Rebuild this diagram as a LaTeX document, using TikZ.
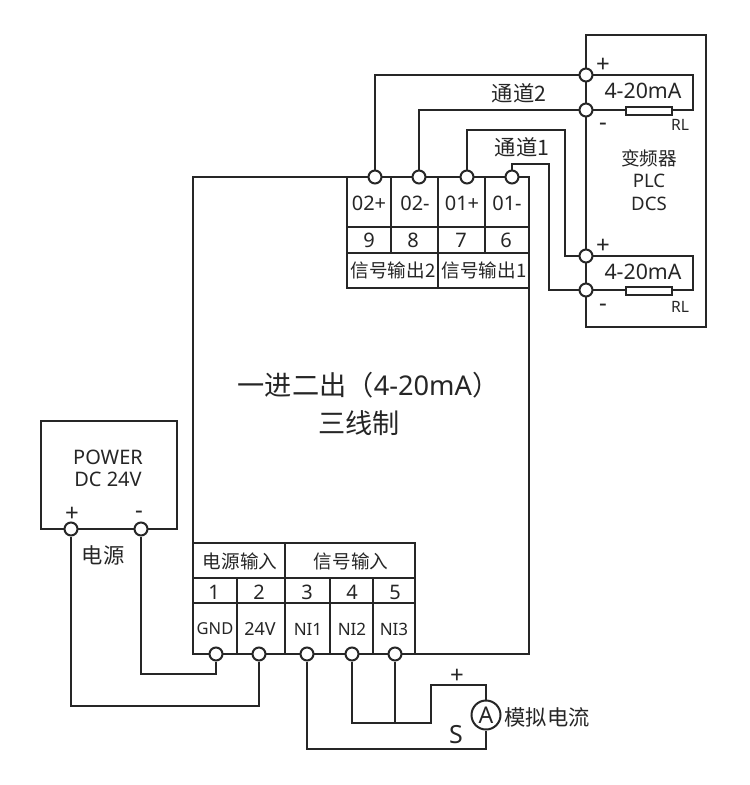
\documentclass[tikz,border=0pt]{standalone}
\usepackage{fontspec}
\setmainfont{Noto Sans}
\newfontfamily\cjk{Noto Sans CJK SC}
\tikzset{
  wire/.style={draw=black!85,line width=2pt},
  term/.style={circle,draw=black!85,line width=2pt,fill=white,minimum size=13pt,inner sep=0pt},
  lab/.style={inner sep=0pt,text=black!85,font=\fontsize{20}{22}\selectfont},
  big/.style={inner sep=0pt,text=black!85,font=\fontsize{27.2}{30}\selectfont},
  mid/.style={inner sep=0pt,text=black!85,font=\fontsize{18.6}{20}\selectfont},
  wide/.style={inner sep=0pt,text=black!85,font=\fontsize{21.3}{24}\selectfont},
  sml/.style={inner sep=0pt,text=black!85,font=\fontsize{15.6}{18}\selectfont},
  cellt/.style={inner sep=0pt,text=black!85,font=\fontsize{17}{18}\selectfont},
  sign/.style={inner sep=0pt,text=black!85,font=\bfseries\fontsize{24}{26}\selectfont},
  res/.style={rectangle,draw=black!85,line width=2pt,fill=white,minimum width=46pt,minimum height=8pt,inner sep=0pt},
}
\begin{document}
\begin{tikzpicture}[x=1pt,y=-1pt]
\useasboundingbox (0,0) rectangle (750,785);
\fill[white] (0,0) rectangle (750,785);
% outlines
\draw[wire] (193,177) rectangle (529,654);
\draw[wire] (586,35) rectangle (706,327);
\draw[wire] (41,421) rectangle (177,529);
\draw[wire] (586,75) rectangle (693,110);
\draw[wire] (586,256) rectangle (693,290);
% output table
\draw[wire] (347,177) -- (347,288) -- (529,288);
\draw[wire] (347,227) -- (529,227);
\draw[wire] (347,253) -- (529,253);
\draw[wire] (391,177) -- (391,253);
\draw[wire] (438,177) -- (438,288);
\draw[wire] (485,177) -- (485,253);
% input table
\draw[wire] (193,543) -- (415,543) -- (415,654);
\draw[wire] (193,578) -- (415,578);
\draw[wire] (193,603) -- (415,603);
\draw[wire] (237,578) -- (237,654);
\draw[wire] (285,543) -- (285,654);
\draw[wire] (330,578) -- (330,654);
\draw[wire] (373,578) -- (373,654);
% terminals
\node[term] (o9) at (375,177) {};
\node[term] (o8) at (419,177) {};
\node[term] (o7) at (467,177) {};
\node[term] (o6) at (512,177) {};
\node[term] (ch2p) at (586,75) {};
\node[term] (ch2m) at (586,110) {};
\node[term] (ch1p) at (586,256) {};
\node[term] (ch1m) at (586,290) {};
\node[term] (i1) at (216,654) {};
\node[term] (i2) at (259,654) {};
\node[term] (i3) at (307,654) {};
\node[term] (i4) at (352,654) {};
\node[term] (i5) at (395,654) {};
\node[term] (pp) at (71,529) {};
\node[term] (pm) at (141,529) {};
\node[res] (r2) at (649,110.5) {};
\node[res] (r1) at (649,291) {};
\node[circle,draw=black!85,line width=2pt,fill=white,minimum size=29pt,inner sep=0pt,font=\fontsize{23}{24}\selectfont,text=black!85] (amp) at (486,715) {A};
% helpers
\coordinate (a) at (565,130);
\coordinate (b) at (549,164);
\coordinate (c) at (431,723);
\coordinate (d) at (395,723);
\coordinate (e) at (216,674);
\coordinate (f) at (259,706);
\coordinate (g) at (486,749);
\coordinate (h) at (486,685);
% wires
\draw[wire] (o9.north) |- (ch2p.west);
\draw[wire] (o8.north) |- (ch2m.west);
\draw[wire] (o7.north) |- (a) |- (ch1p.west);
\draw[wire] (o6.north) |- (b) |- (ch1m.west);
\draw[wire] (i1.south) -- (e) -| (pm.south);
\draw[wire] (i2.south) -- (f) -| (pp.south);
\draw[wire] (i3.south) |- (g) -- (amp.south);
\draw[wire] (i4.south) |- (c) |- (h) -- (amp.north);
\draw[wire] (i5.south) -- (d);
% text
\node[big] (t1) at (368.5,385) {\cjk 一进二出（{\fontspec{Noto Sans}4-20mA}）};
\node[big] (t2) at (359,423) {\cjk 三线制};
\node[wide] (tc2) at (519,93) {\cjk 通道2};
\node[wide] (tc1) at (522,147) {\cjk 通道1};
\node[wide] (t4a) at (643,91) {4-20mA};
\node[wide] (t4b) at (643,272) {4-20mA};
\node[sml] at (680,125) {RL};
\node[sml] at (680,307) {RL};
\node[sign] at (603,65) {+};
\node[sign] at (603,246) {+};
\node[sign] at (603,127) {-};
\node[sign] at (603,308) {-};
\node[mid] at (649,158) {\cjk 变频器};
\node[mid] at (649,181) {PLC};
\node[mid] at (649,204) {DCS};
\node[lab] at (369,203) {02+};
\node[lab] at (415,203) {02-};
\node[lab] at (462,203) {01+};
\node[lab] at (507,203) {01-};
\node[lab] at (369,240) {9};
\node[lab] at (413,240) {8};
\node[lab] at (461,240) {7};
\node[lab] at (506,240) {6};
\node[mid] at (393,270) {\cjk 信号输出2};
\node[mid] at (484,270) {\cjk 信号输出1};
\node[mid] at (240,561) {\cjk 电源输入};
\node[mid] at (351,561) {\cjk 信号输入};
\node[lab] at (214,592) {1};
\node[lab] at (259,592) {2};
\node[lab] at (307,592) {3};
\node[lab] at (352,592) {4};
\node[lab] at (395,592) {5};
\node[cellt,font=\fontsize{16.5}{18}\selectfont] at (215,629) {GND};
\node[cellt,font=\fontsize{18}{20}\selectfont] at (260,629) {24V};
\node[cellt] at (308,629) {NI1};
\node[cellt] at (352,629) {NI2};
\node[cellt] at (394,629) {NI3};
\node[lab] at (108,457) {POWER};
\node[lab] at (108,479) {DC 24V};
\node[sign] at (72,514) {+};
\node[sign] at (139,515) {-};
\node[wide] at (103,555) {\cjk 电源};
\node[sign] at (457,676) {+};
\node[lab,font=\fontsize{25}{28}\selectfont] at (456,735) {S};
\node[wide] at (547,717) {\cjk 模拟电流};
\end{tikzpicture}
\end{document}
